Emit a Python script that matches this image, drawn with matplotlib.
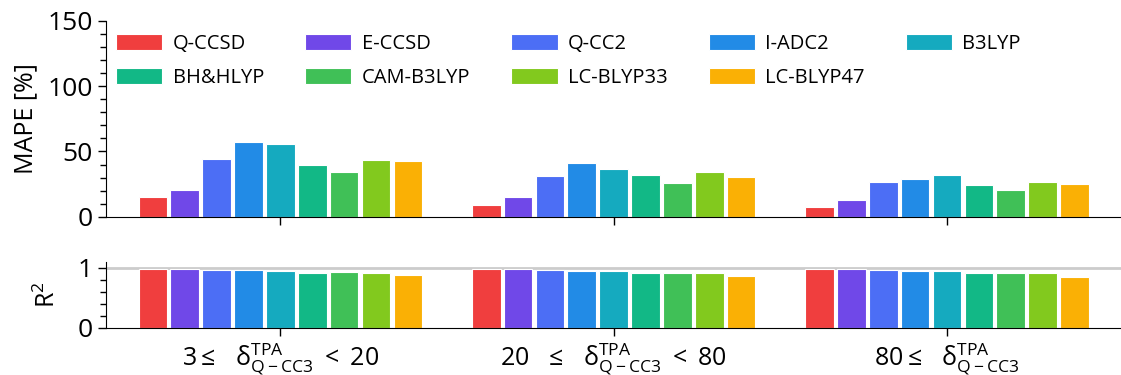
import matplotlib
matplotlib.use("Agg")
import matplotlib.pyplot as plt
import numpy as np
from matplotlib.ticker import MultipleLocator

plt.rcParams['font.family'] = ['Open Sans', 'DejaVu Sans']
plt.rcParams['mathtext.fontset'] = 'custom'
plt.rcParams['mathtext.rm'] = 'Open Sans'
plt.rcParams['mathtext.it'] = 'Open Sans'
plt.rcParams['mathtext.default'] = 'regular'

# methods and colours
methods = ['Q-CCSD', 'E-CCSD', 'Q-CC2', 'I-ADC2', 'B3LYP',
           'BH&HLYP', 'CAM-B3LYP', 'LC-BLYP33', 'LC-BLYP47']
colors = ['#f03e3e', '#7048e8', '#4c6ef5', '#228be6', '#15aabf',
          '#12b886', '#40c057', '#82c91e', '#fab005']

groups = [r'$3\leq\ \ \delta^{TPA}_{Q-CC3}\;<\;20$',
          r'$20\ \ \leq\ \ \delta^{TPA}_{Q-CC3}\;<\;80$',
          r'$80\leq\ \ \delta^{TPA}_{Q-CC3}$']

# MAPE [%] per group (rows = methods)
mape_g1 = [15.3, 20.2, 43.9, 57.1, 55.6, 39.5, 34.4, 43.1, 42.6]
mape_g2 = [9.2, 15.3, 31.4, 40.8, 36.5, 31.6, 26.0, 33.9, 30.1]
mape_g3 = [7.7, 12.5, 26.5, 29.1, 32.1, 24.5, 20.7, 26.8, 25.3]

# R^2 per group
r2_g1 = [0.989, 0.983, 0.972, 0.966, 0.949, 0.920, 0.932, 0.920, 0.880]
r2_g2 = [0.990, 0.980, 0.966, 0.949, 0.949, 0.915, 0.920, 0.920, 0.864]
r2_g3 = [0.990, 0.980, 0.966, 0.949, 0.949, 0.915, 0.915, 0.920, 0.847]

mape = np.array([mape_g1, mape_g2, mape_g3])
r2 = np.array([r2_g1, r2_g2, r2_g3])

fig = plt.figure(figsize=(11.21, 3.75), dpi=100)
ax1 = fig.add_axes([0.0946, 0.4221, 0.9054, 0.5219])
ax2 = fig.add_axes([0.0946, 0.1261, 0.9054, 0.1752])

x = np.arange(len(groups))
step = 0.0956
width = 0.086

bars = []
for i, m in enumerate(methods):
    off = (i - 4) * step
    b = ax1.bar(x + off, mape[:, i], width, color=colors[i], label=m,
                edgecolor='white', linewidth=0.8, zorder=2)
    bars.append(b)
    ax2.bar(x + off, r2[:, i], width, color=colors[i],
            edgecolor='white', linewidth=0.8, zorder=2)

ax2.axhline(1.0, color='#cccccc', lw=2, zorder=1)

for ax in (ax1, ax2):
    ax.spines['top'].set_visible(False)
    ax.spines['right'].set_visible(False)
    ax.set_xlim(-0.523, 2.522)
    ax.set_xticks(x)
    ax.tick_params(axis='both', labelsize=19, length=6, width=1)
    ax.tick_params(axis='y', which='minor', length=4, width=1)

ax1.set_xticklabels([])
ax1.set_ylim(0, 150)
ax1.yaxis.set_major_locator(MultipleLocator(50))
ax1.yaxis.set_minor_locator(MultipleLocator(10))
ax1.set_ylabel('MAPE [%]', fontsize=18, labelpad=7)

ax2.set_ylim(0, 1.1)
ax2.set_yticks([0, 1])
ax2.yaxis.set_minor_locator(MultipleLocator(0.2))
ax2.set_ylabel('R$^2$', fontsize=18, labelpad=12)
ax2.set_xticklabels(groups, fontsize=18)

order = [0, 5, 1, 6, 2, 7, 3, 8, 4]
ax1.legend([bars[k] for k in order], [methods[k] for k in order],
           ncol=5, loc='upper left', bbox_to_anchor=(0.0, 0.985),
           frameon=False, fontsize=14.5, handlelength=2.3, handleheight=0.85,
           handletextpad=0.5, columnspacing=2.05, labelspacing=0.7,
           borderaxespad=0.1)

fig.savefig('out.png', dpi=100)
